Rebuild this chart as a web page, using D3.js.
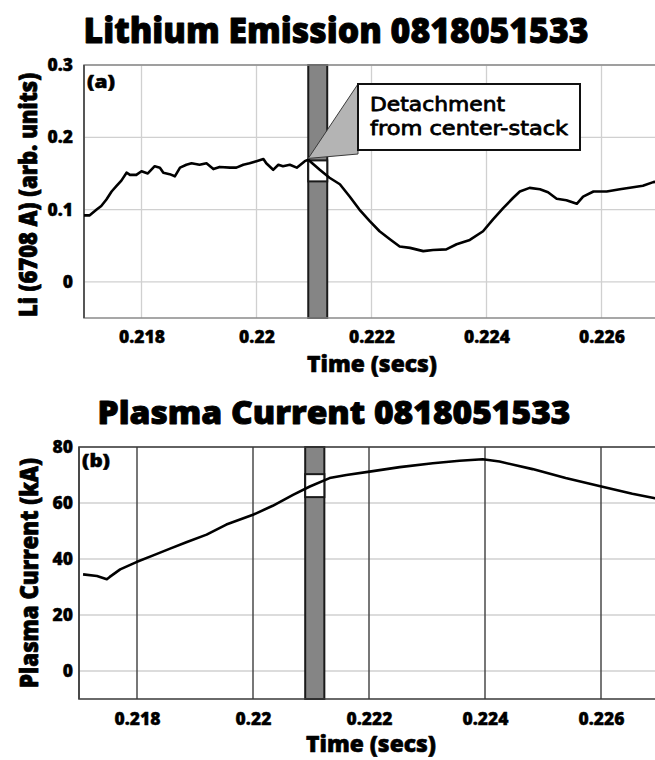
<!DOCTYPE html>
<html>
<head>
<meta charset="utf-8">
<script src="https://cdn.jsdelivr.net/npm/d3@7"></script>
<style>
  html, body { margin: 0; padding: 0; background: #fff; }
  svg { display: block; font-family: "Open Sans", "DejaVu Sans", sans-serif; }
</style>
</head>
<body>
<svg id="chart" width="655" height="760"></svg>
<script>
// Shot 0818051533: lithium line emission and plasma current
const liTime = [0.21698, 0.2171, 0.21722, 0.2173, 0.21739, 0.21748, 0.21757, 0.21765, 0.21774, 0.2178,
  0.21791, 0.218, 0.21811, 0.21823, 0.21832, 0.21838, 0.21849, 0.21858, 0.21867, 0.21878,
  0.21887, 0.21901, 0.21913, 0.21925, 0.21936, 0.21954, 0.21965, 0.21977, 0.21988, 0.22,
  0.22012, 0.22017, 0.22029, 0.22038, 0.22046, 0.22058, 0.2207, 0.22084, 0.2209, 0.2211,
  0.22127, 0.22145, 0.22162, 0.22179, 0.22197, 0.22214, 0.22232, 0.22249, 0.22267, 0.2229,
  0.22307, 0.2233, 0.22348, 0.22371, 0.22394, 0.22411, 0.22429, 0.22446, 0.22458, 0.22475,
  0.22493, 0.22507, 0.22522, 0.22539, 0.22557, 0.22568, 0.22586, 0.22609, 0.22632, 0.22655,
  0.22672, 0.2269, 0.2270];
const liValue = [0.092, 0.092, 0.100, 0.105, 0.114, 0.125, 0.133, 0.140, 0.151, 0.148,
  0.148, 0.153, 0.150, 0.160, 0.158, 0.151, 0.149, 0.146, 0.158, 0.162,
  0.164, 0.162, 0.164, 0.156, 0.159, 0.158, 0.158, 0.162, 0.164, 0.167,
  0.170, 0.164, 0.155, 0.162, 0.160, 0.162, 0.158, 0.167, 0.169, 0.155,
  0.144, 0.135, 0.118, 0.100, 0.084, 0.070, 0.059, 0.049, 0.047, 0.0425,
  0.044, 0.045, 0.052, 0.058, 0.070, 0.086, 0.102, 0.116, 0.125, 0.130,
  0.128, 0.124, 0.115, 0.113, 0.108, 0.118, 0.125, 0.125, 0.128, 0.131,
  0.133, 0.138, 0.139];

const ipTime = [0.21707, 0.21731, 0.21748, 0.21753, 0.21771, 0.21799, 0.21828, 0.21857, 0.21885, 0.2192,
  0.21954, 0.22, 0.22034, 0.22069, 0.22098, 0.22132, 0.22161, 0.22201, 0.22253, 0.2231,
  0.22356, 0.22396, 0.22425, 0.22482, 0.22539, 0.22597, 0.22654, 0.22691, 0.2270];
const ipValue = [34.5, 33.9, 32.8, 33.6, 36.3, 38.9, 41.3, 43.7, 46.0, 48.7,
  52.3, 55.8, 59.0, 62.9, 65.9, 68.9, 70.0, 71.2, 72.8, 74.2,
  75.1, 75.6, 74.8, 72.1, 68.9, 66.1, 63.3, 61.8, 61.4];

const xTicks = [0.218, 0.22, 0.222, 0.224, 0.226];
const xTickLabels = ["0.218", "0.22", "0.222", "0.224", "0.226"];
const liTicks = [0, 0.1, 0.2, 0.3];
const liTickLabels = ["0", "0.1", "0.2", "0.3"];
const ipTicks = [0, 20, 40, 60, 80];
const ipTickLabels = ["0", "20", "40", "60", "80"];

// time window of the detachment event, and the zoom window on each trace
const eventWindow = [0.2209, 0.22123];
const liEventBox = [0.139, 0.168];
const ipEventBox = [62.1, 70.3];
const calloutText = ["Detachment", "from center-stack"];

const svg = d3.select("#chart");
const CAP = 0.714; // Open Sans cap height, in em

// size a text by its cap height, then stretch it along its baseline to a given length
function fitText(sel, length, cap, ratio) {
  sel.attr("font-size", (cap / (ratio || CAP)).toFixed(2));
  const w = sel.node().getComputedTextLength();
  const sx = length / w;
  const t = sel.attr("data-t") || "";
  sel.attr("transform", `${t} scale(${sx.toFixed(4)},1)`);
}
function placed(parent, x, y, rot) {
  const s = parent.append("text").attr("x", 0).attr("y", 0);
  s.attr("data-t", `translate(${x},${y})` + (rot ? ` rotate(${rot})` : ""));
  s.attr("transform", s.attr("data-t"));
  return s;
}
// heavier strokes for the extra-bold labels
function heavy(sel, w) {
  return sel.attr("stroke", "#000").attr("stroke-width", w).attr("stroke-linejoin", "round");
}

function panel(opts) {
  const R = 659;
  const x = d3.scaleLinear().domain([0.217, 0.227]).range([opts.left, R]);
  const y = d3.scaleLinear().domain(opts.yDomain).range([opts.bottom, opts.top]);
  const g = svg.append("g");

  // title
  const title = placed(g, opts.titleX, opts.titleY)
    .attr("text-anchor", "middle").attr("font-weight", 800).attr("fill", "#000")
    .text(opts.title);
  heavy(title, 0.9);
  fitText(title, opts.titleWidth, opts.titleCap);

  // grid
  g.append("g").selectAll("line").data(opts.yTicks).join("line")
    .attr("x1", opts.left).attr("x2", R)
    .attr("y1", d => y(d)).attr("y2", d => y(d))
    .attr("stroke", "#d0d0d0").attr("stroke-width", 1.3);
  g.append("g").selectAll("line").data(xTicks).join("line")
    .attr("x1", d => x(d)).attr("x2", d => x(d))
    .attr("y1", opts.top).attr("y2", opts.bottom)
    .attr("stroke", opts.vGridColor).attr("stroke-width", opts.vGridWidth);

  // axes
  const xAxis = d3.axisBottom(x).tickValues(xTicks)
    .tickFormat((d, i) => xTickLabels[i]).tickSize(0).tickPadding(0);
  const xg = g.append("g").attr("transform", `translate(0,${opts.bottom})`).call(xAxis);
  xg.select(".domain").remove();
  heavy(xg.selectAll("text"), 0.4).attr("dy", null).attr("y", opts.xTickBaseline - opts.bottom)
    .attr("font-family", "'Open Sans', sans-serif")
    .attr("font-weight", 800).attr("font-size", 17.5).attr("fill", "#000");

  const yAxis = d3.axisLeft(y).tickValues(opts.yTicks)
    .tickFormat((d, i) => opts.yTickLabels[i]).tickSize(0).tickPadding(opts.left - 73);
  const yg = g.append("g").attr("transform", `translate(${opts.left},0)`).call(yAxis);
  yg.select(".domain").remove();
  heavy(yg.selectAll("text"), 0.4).attr("font-family", "'Open Sans', sans-serif")
    .attr("font-weight", 800).attr("font-size", 17.5).attr("fill", "#000");

  // axis titles
  const xt = placed(g, opts.xTitleX, opts.xTitleY)
    .attr("text-anchor", "middle").attr("font-weight", 800).attr("fill", "#000")
    .text("Time (secs)");
  heavy(xt, 0.6);
  fitText(xt, 130, opts.xTitleCap);

  const yt = placed(g, opts.yTitleX, opts.yTitleY, -90)
    .attr("text-anchor", "middle").attr("font-weight", 800).attr("fill", "#000")
    .text(opts.yTitle);
  heavy(yt, 0.8);
  fitText(yt, opts.yTitleLength, opts.yTitleCap);

  // event window band
  g.append("rect")
    .attr("x", x(eventWindow[0])).attr("y", opts.top)
    .attr("width", x(eventWindow[1]) - x(eventWindow[0]))
    .attr("height", opts.bottom - opts.top)
    .attr("fill", "#858585").attr("stroke", "#1a1a1a").attr("stroke-width", 2);
  g.append("rect")
    .attr("x", x(eventWindow[0])).attr("y", y(opts.eventBox[1]))
    .attr("width", x(eventWindow[1]) - x(eventWindow[0]))
    .attr("height", y(opts.eventBox[0]) - y(opts.eventBox[1]))
    .attr("fill", "#fff").attr("stroke", "#1a1a1a").attr("stroke-width", 2);

  // frame
  g.append("path")
    .attr("d", `M${R},${opts.top}H${opts.left}V${opts.bottom}H${R}`)
    .attr("fill", "none").attr("stroke", opts.frameColor).attr("stroke-width", 1.6);
  g.append("line")
    .attr("x1", opts.left).attr("x2", opts.left).attr("y1", opts.top).attr("y2", opts.bottom)
    .attr("stroke", "#444").attr("stroke-width", 1.6);

  // panel tag
  const tag = placed(g, opts.left + 3, opts.tagY)
    .attr("font-weight", 800).attr("fill", "#000").text(opts.tag);
  heavy(tag, 0.5);
  fitText(tag, 28, 12);

  // trace
  const clipId = "clip-" + opts.tag.replace(/\W/g, "");
  svg.append("clipPath").attr("id", clipId).append("rect")
    .attr("x", opts.left).attr("y", opts.top)
    .attr("width", R - opts.left).attr("height", opts.bottom - opts.top);
  const line = d3.line().x(d => x(d[0])).y(d => y(d[1]));
  g.append("path")
    .datum(d3.zip(opts.time, opts.value))
    .attr("clip-path", `url(#${clipId})`)
    .attr("d", line)
    .attr("fill", "none").attr("stroke", "#000")
    .attr("stroke-width", 2.6).attr("stroke-linejoin", "round");

  return { x, y, g };
}

const a = panel({
  title: "Lithium Emission 0818051533", titleX: 336, titleY: 43, titleWidth: 505, titleCap: 25,
  left: 84, top: 65, bottom: 318, yDomain: [-0.05, 0.3],
  yTicks: liTicks, yTickLabels: liTickLabels, xTickBaseline: 343,
  yTitle: "Li (6708 A) (arb. units)", yTitleX: 37, yTitleY: 195, yTitleLength: 244, yTitleCap: 17,
  xTitleX: 372, xTitleY: 372, xTitleCap: 16,
  vGridColor: "#d0d0d0", vGridWidth: 1.3, frameColor: "#8a8a8a",
  eventBox: liEventBox, tag: "(a)", tagY: 88, time: liTime, value: liValue
});

const b = panel({
  title: "Plasma Current 0818051533", titleX: 334, titleY: 424, titleWidth: 473, titleCap: 22.5,
  left: 79, top: 447, bottom: 699, yDomain: [-10, 80],
  yTicks: ipTicks, yTickLabels: ipTickLabels, xTickBaseline: 725,
  yTitle: "Plasma Current (kA)", yTitleX: 38, yTitleY: 573, yTitleLength: 230, yTitleCap: 18,
  xTitleX: 371, xTitleY: 752, xTitleCap: 16,
  vGridColor: "#4a4a4a", vGridWidth: 1.5, frameColor: "#3a3a3a",
  eventBox: ipEventBox, tag: "(b)", tagY: 467, time: ipTime, value: ipValue
});

// callout for the detachment event in panel (a)
{
  const { x, y, g } = a;
  const apexX = x(eventWindow[0]), apexY = y(liEventBox[1]) - 2;
  const boxX = 358, boxY = 84, boxW = 222, boxH = 66;
  g.append("path")
    .attr("d", `M${apexX},${apexY} L${boxX},${boxY} L${boxX},${boxY + boxH + 4} Z`)
    .attr("fill", "#b4b4b4").attr("stroke", "#3a3a3a").attr("stroke-width", 1);
  g.append("rect")
    .attr("x", boxX).attr("y", boxY).attr("width", boxW).attr("height", boxH)
    .attr("fill", "#fff").attr("stroke", "#111").attr("stroke-width", 2);
  const widths = [135, 198];
  calloutText.forEach((t, i) => {
    const tx = placed(g, boxX + 12, boxY + 27 + i * 24)
      .attr("font-family", "'DejaVu Sans', sans-serif")
      .attr("fill", "#000").text(t);
    heavy(tx, 0.8);
    fitText(tx, widths[i], 14.5, 0.729);
  });
}
</script>
</body>
</html>
